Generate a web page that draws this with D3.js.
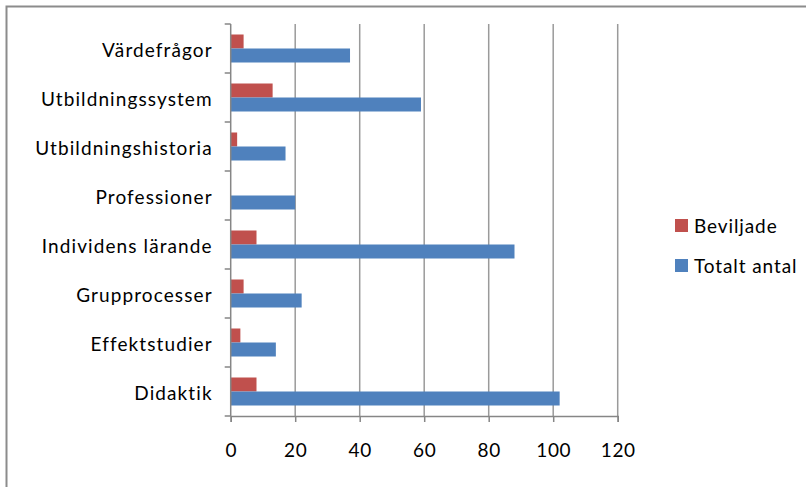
<!DOCTYPE html>
<html>
<head>
<meta charset="utf-8">
<script src="https://cdn.jsdelivr.net/npm/d3@7/dist/d3.min.js"></script>
<style>
  html, body { margin: 0; padding: 0; background: #fff; }
  svg { display: block; }
  text { font-family: Lato, "Open Sans", sans-serif; fill: #000; }
</style>
</head>
<body>
<svg id="chart" width="806" height="487"></svg>
<script>
// Categories, top to bottom
const categories = [
  "Värdefrågor",
  "Utbildningssystem",
  "Utbildningshistoria",
  "Professioner",
  "Individens lärande",
  "Grupprocesser",
  "Effektstudier",
  "Didaktik"
];
const seriesNames = ["Beviljade", "Totalt antal"];
const beviljade   = [4, 13, 2, 0, 8, 4, 3, 8];
const totaltAntal = [37, 59, 17, 20, 88, 22, 14, 102];
const xTicks = [0, 20, 40, 60, 80, 100, 120];
const colors = ["#C0504D", "#4F81BD"];

const svg = d3.select("#chart");

// outer chart frame
svg.append("rect")
  .attr("x", 6.5).attr("y", 6.5)
  .attr("width", 820).attr("height", 500)
  .attr("fill", "none").attr("stroke", "#8c8c8c").attr("stroke-width", 2);

const plot = { left: 230.7, right: 617.7, top: 24, bottom: 416 };

const x = d3.scaleLinear().domain([0, 120]).range([plot.left, plot.right]);
const y = d3.scaleBand().domain(categories).range([plot.top, plot.bottom]).padding(0);
const sub = d3.scaleBand().domain(seriesNames).range([0, y.bandwidth()])
  .paddingInner(0).paddingOuter(0.75);

// vertical gridlines
svg.append("g").selectAll("line")
  .data(xTicks.filter(d => d > 0))
  .join("line")
  .attr("x1", d => x(d)).attr("x2", d => x(d))
  .attr("y1", plot.top).attr("y2", plot.bottom)
  .attr("stroke", "#9a9a9a").attr("stroke-width", 1.5);

// bars
const rows = categories.map((c, i) => ({
  cat: c,
  values: [
    { s: seriesNames[0], v: beviljade[i], color: colors[0] },
    { s: seriesNames[1], v: totaltAntal[i], color: colors[1] }
  ]
}));

svg.append("g").selectAll("g")
  .data(rows)
  .join("g")
  .attr("transform", d => `translate(0,${y(d.cat)})`)
  .selectAll("rect")
  .data(d => d.values)
  .join("rect")
  .attr("x", x(0))
  .attr("y", d => sub(d.s))
  .attr("width", d => x(d.v) - x(0))
  .attr("height", sub.bandwidth())
  .attr("fill", d => d.color);

// x axis
const xAxis = svg.append("g")
  .attr("transform", `translate(0,${plot.bottom})`)
  .call(d3.axisBottom(x).tickValues(xTicks).tickSize(6).tickPadding(22));
xAxis.select(".domain").attr("stroke", "#868686").attr("stroke-width", 1.5);
xAxis.selectAll(".tick line").attr("stroke", "#868686").attr("stroke-width", 1.5);
xAxis.selectAll("text")
  .style("font-size", "19px").style("letter-spacing", "0.6px")
  .attr("fill", "#000");

// y axis with boundary ticks between categories
const yAxisG = svg.append("g");
yAxisG.append("line")
  .attr("x1", plot.left).attr("x2", plot.left)
  .attr("y1", plot.top).attr("y2", plot.bottom)
  .attr("stroke", "#868686").attr("stroke-width", 1.5);
const boundaries = categories.map(c => y(c)).concat([plot.bottom]);
yAxisG.selectAll("line.tk")
  .data(boundaries)
  .join("line").attr("class", "tk")
  .attr("x1", plot.left - 6).attr("x2", plot.left)
  .attr("y1", d => d).attr("y2", d => d)
  .attr("stroke", "#868686").attr("stroke-width", 1.5);
yAxisG.selectAll("text")
  .data(categories)
  .join("text")
  .attr("x", plot.left - 18)
  .attr("y", d => y(d) + y.bandwidth() / 2)
  .attr("dy", "0.45em")
  .attr("text-anchor", "end")
  .style("font-size", "19px")
  .style("letter-spacing", "1.1px")
  .text(d => d);

// legend
const legend = svg.append("g").attr("transform", "translate(675,219)");
const li = legend.selectAll("g").data(seriesNames).join("g")
  .attr("transform", (d, i) => `translate(0,${i * 40})`);
li.append("rect").attr("width", 13).attr("height", 13)
  .attr("fill", (d, i) => colors[i]);
li.append("text").attr("x", 19).attr("y", 14)
  .style("font-size", "19px").style("letter-spacing", "0.9px")
  .text(d => d);
</script>
</body>
</html>
